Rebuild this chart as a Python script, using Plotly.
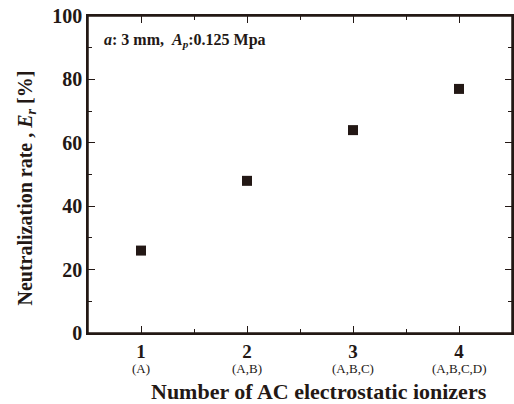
import plotly.graph_objects as go

counts = [1, 2, 3, 4]
combos = ["(A)", "(A,B)", "(A,B,C)", "(A,B,C,D)"]
rates = [26, 48, 64, 77]
y_ticks = [0, 20, 40, 60, 80, 100]

ink = "#231815"
serif = "Liberation Serif, Times New Roman, serif"

fig = go.Figure()
fig.add_trace(go.Scatter(
    x=counts, y=rates, mode="markers",
    marker=dict(symbol="square", size=10, color=ink),
    showlegend=False, cliponaxis=False,
))

axis_common = dict(
    showline=True, linecolor=ink, linewidth=1.5, mirror="allticks",
    ticks="inside", ticklen=7, tickwidth=1.2, tickcolor=ink,
    showgrid=False, zeroline=False, automargin=False,
    ticklabeloverflow="allow",
)

fig.update_xaxes(
    range=[0.5, 4.5], tickvals=counts,
    ticktext=[f"<b>{c}</b>" for c in counts],
    tickfont=dict(family=serif, size=19, color=ink),
    ticklabelstandoff=0,
    minor=dict(ticks="inside", dtick=0.5, tick0=0.5, ticklen=4, tickwidth=1.2, tickcolor=ink),
    **axis_common,
)
fig.update_yaxes(
    range=[0, 100], tickvals=y_ticks,
    ticktext=[f"<b>{v}</b>" for v in y_ticks],
    tickfont=dict(family=serif, size=20, color=ink),
    minor=dict(ticks="inside", dtick=10, ticklen=4, tickwidth=1.2, tickcolor=ink),
    **axis_common,
)

# plot frame
fig.add_shape(type="rect", xref="paper", yref="paper", x0=0, x1=1, y0=0, y1=1,
              line=dict(color=ink, width=1.5), layer="above")

# combination sub-labels under each tick
for c, s in zip(counts, combos):
    fig.add_annotation(
        x=c, y=0, xref="x", yref="paper", yanchor="middle", yshift=-35,
        text=s, showarrow=False, font=dict(family=serif, size=13, color=ink),
    )

# axis titles
fig.add_annotation(
    x=0.5, y=0, xref="paper", yref="paper", xshift=19, yshift=-58,
    xanchor="center", yanchor="middle",
    text="<b>Number of AC electrostatic ionizers</b>", showarrow=False,
    font=dict(family=serif, size=22, color=ink),
)
fig.add_annotation(
    x=0, y=0.5, xref="paper", yref="paper", xshift=-62, yshift=-14,
    xanchor="center", yanchor="middle", textangle=-90,
    text="<b>Neutralization rate , <i>E<sub>r</sub></i> [%]</b>", showarrow=False,
    font=dict(family=serif, size=20, color=ink),
)

fig.add_annotation(
    x=0.033, y=0.924, xref="paper", yref="paper", xanchor="left", yanchor="middle",
    text="<b><i>a</i>: 3 mm,  <i>A<sub>p</sub></i>:0.125 Mpa</b>",
    showarrow=False, font=dict(family=serif, size=16, color=ink),
)

fig.update_layout(
    width=514, height=404,
    margin=dict(l=88, r=2, t=16, b=71),
    paper_bgcolor="white", plot_bgcolor="white",
)

# remove the page's default body margin so the figure sits at the window origin
fig.write_html("out.html", config={"displayModeBar": False},
               post_script="document.body.style.margin='0';document.body.style.overflow='hidden';")
